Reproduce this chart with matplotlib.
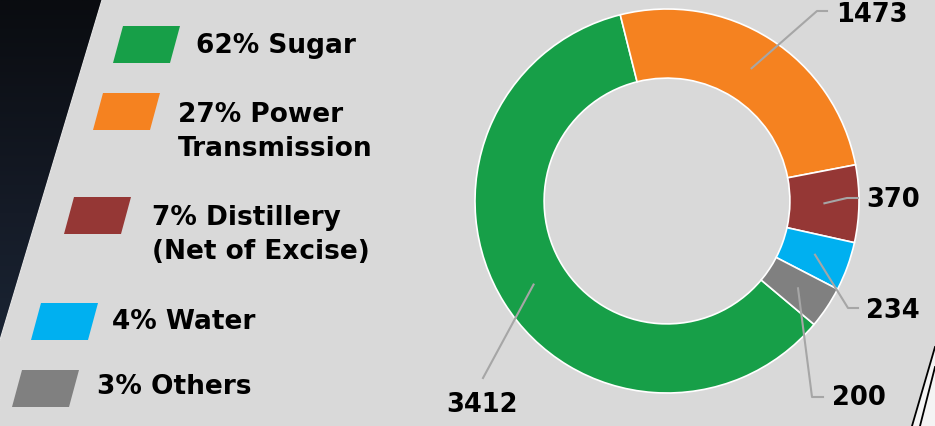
import numpy as np
import matplotlib.pyplot as plt
from matplotlib.patches import Polygon
from matplotlib.colors import LinearSegmentedColormap

# data
categories = ['Sugar', 'Power Transmission', 'Distillery (Net of Excise)', 'Water', 'Others']
values = [3412, 1473, 370, 234, 200]
legend_labels = ['62% Sugar', '27% Power\nTransmission', '7% Distillery\n(Net of Excise)', '4% Water', '3% Others']
colors = ['#179f48', '#f58220', '#953735', '#00b0f0', '#808080']

FONT = 'DejaVu Sans'

W, H = 935, 426
fig = plt.figure(figsize=(9.35, 4.26), dpi=100)
fig.patch.set_facecolor('#d9d9d9')
ax = fig.add_axes([0, 0, 1, 1])
ax.set_facecolor('#d9d9d9')

# dark slanted panel top-left
cmap = LinearSegmentedColormap.from_list('dark', ['#1d2a3b', '#151b27', '#0a0c10'])
grad = np.linspace(0, 1, 256).reshape(-1, 1)
im = ax.imshow(grad, extent=[0, 110, 0, H], origin='lower', cmap=cmap, aspect='auto', zorder=0)
panel = Polygon([(0, H), (102, H), (0, H - 340)], closed=True, transform=ax.transData, facecolor='none', edgecolor='none')
ax.add_patch(panel)
im.set_clip_path(panel)
ax.plot([102, 0], [H, H - 340], color='#e6e6e6', lw=0.8, zorder=1)

# white strip bottom-right
ax.add_patch(Polygon([(912, 0), (935, H - 347), (935, 0)], closed=True, facecolor='#f4f4f4', edgecolor='none', zorder=1))
ax.plot([912, 935], [0, H - 347], color='black', lw=1.3, zorder=2)
ax.plot([920, 935], [0, H - 367], color='black', lw=1.3, zorder=2)

# donut
cx, cy, R = 667, H - 201, 192
wedges, _ = ax.pie(values, colors=colors, center=(cx, cy), radius=R, startangle=320,
                   counterclock=False, frame=True,
                   wedgeprops=dict(width=R * 0.36, edgecolor='white', linewidth=1.2))

# value labels with leader lines (elbow, end, text position in px from top)
leaders = [
    [(483, 378), (483, 378), (482, 405), 'center'],
    [(817, 11), (827, 11), (836, 15), 'left'],
    [(847, 198), (858, 198), (866, 200), 'left'],
    [(848, 308), (858, 308), (866, 311), 'left'],
    [(812, 397), (823, 397), (832, 398), 'left'],
]
for w, v, (elbow, end, txt, ha) in zip(wedges, values, leaders):
    mid = np.deg2rad((w.theta1 + w.theta2) / 2)
    ax0 = cx + 0.82 * R * np.cos(mid)
    ay0 = cy + 0.82 * R * np.sin(mid)
    ax.plot([ax0, elbow[0], end[0]], [ay0, H - elbow[1], H - end[1]],
            color='#a6a6a6', lw=1.5, zorder=3)
    ax.text(txt[0], H - txt[1], str(v), ha=ha, va='center', fontsize=18.5,
            fontweight='bold', family=FONT, color='black', zorder=4)

# legend swatches (parallelograms) and labels
sw_x = [113, 93, 64, 31, 12]
sw_top = [26, 93, 197, 303, 370]
txt_pos = [(196, 46), (178, 132), (152, 235), (112, 322), (97, 387)]
for c, x0, t, lab, (tx, ty) in zip(colors, sw_x, sw_top, legend_labels, txt_pos):
    b = t + 37
    ax.add_patch(Polygon([(x0, H - b), (x0 + 10, H - t), (x0 + 67, H - t), (x0 + 57, H - b)],
                         closed=True, facecolor=c, edgecolor='none', zorder=3))
    ax.text(tx, H - ty, lab, ha='left', va='center', fontsize=19, fontweight='bold',
            family=FONT, color='black', linespacing=1.42, zorder=4)

ax.set_xlim(0, W)
ax.set_ylim(0, H)
ax.set_aspect('equal')
ax.axis('off')
fig.savefig('out.png', dpi=100, facecolor=fig.get_facecolor())
